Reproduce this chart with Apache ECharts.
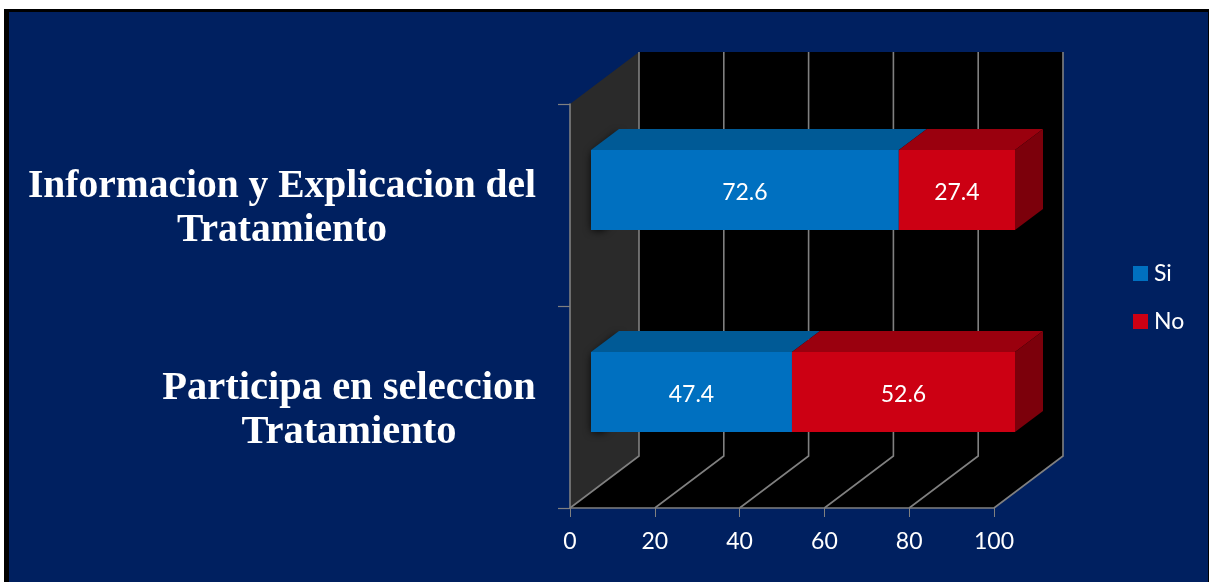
<!DOCTYPE html>
<html>
<head>
<meta charset="utf-8">
<style>
html,body{margin:0;padding:0;background:#fff;width:1212px;height:582px;overflow:hidden}
#frame{position:absolute;left:4px;top:9px;width:1205px;height:573px;box-sizing:border-box;background:#002060;border-style:solid;border-color:#000;border-width:3px 1px 0 5px}
#chart{position:absolute;left:0;top:0;width:1212px;height:582px}
</style>
<script src="https://cdn.jsdelivr.net/npm/echarts@6/dist/echarts.min.js"></script>
</head>
<body>
<div id="frame"></div>
<div id="chart"></div>
<script>
const categories = ['Informacion y Explicacion del\nTratamiento', 'Participa en seleccion\nTratamiento'];
const siValues = [72.6, 47.4];
const noValues = [27.4, 52.6];
const xTicks = [0, 20, 40, 60, 80, 100];
const labelWidths = [508, 374];
const labelSizes = [39.5, 40.5];

const WALL = {dx: 69, dy: -52};
const BAR = {dx: 28, dy: -21, fx: 21, fy: -15, h: 80};
const C = {
  si: {front: '#0070C0', top: '#005A96'},
  no: {front: '#CC0013', top: '#9A000E', side: '#7C000B'}
};
const GRAY = '#808080';

function poly(pts, fill, extra) {
  return {type: 'polygon', shape: {points: pts}, style: Object.assign({fill: fill}, extra || {})};
}

function wallItem(params, api) {
  const v = api.value(0);
  const p = api.coord([v, 1]);
  const size = api.size([0, 1]);
  const x = p[0], floorY = p[1] + size[1] / 2;
  const topY = floorY - size[1] * 2;
  const bx = x + WALL.dx, by = floorY + WALL.dy, ty = topY + WALL.dy;
  const kids = [];
  if (v === 0) {
    const x100 = api.coord([100, 1])[0];
    kids.push(poly([[bx, ty], [x100 + WALL.dx, ty], [x100 + WALL.dx, by], [bx, by]], '#000'));
    kids.push(poly([[x, floorY], [x100, floorY], [x100 + WALL.dx, by], [bx, by]], '#000'));
    kids.push(poly([[x, topY], [bx, ty], [bx, by], [x, floorY]], '#2A2A2A'));
  }
  kids.push({type: 'polyline', shape: {points: [[bx, ty], [bx, by], [x, floorY]]}, style: {fill: null, stroke: GRAY, lineWidth: 1.6}});
  return {type: 'group', children: kids};
}

function barItem(colors, isLast) {
  return function (params, api) {
    const cat = api.value(0), a = api.value(1), b = api.value(2);
    const p0 = api.coord([a, cat]), p1 = api.coord([b, cat]);
    const x0 = p0[0] + BAR.fx, x1 = p1[0] + BAR.fx;
    const yT = p0[1] + BAR.fy - BAR.h / 2, yB = yT + BAR.h;
    const kids = [];
    if (a === 0) {
      kids.push(poly([[x0 + 1, yT + 2], [x0 + BAR.dx, yT + BAR.dy + 1], [x0 + BAR.dx, yB + BAR.dy], [x0 + 12, yB - 2], [x0 + 1, yB - 2]], '#000', {shadowBlur: 9, shadowColor: '#000', shadowOffsetY: 2}));
    }
    kids.push(poly([[x0, yT], [x1, yT], [x1 + BAR.dx, yT + BAR.dy], [x0 + BAR.dx, yT + BAR.dy]], colors.top));
    if (isLast) {
      kids.push(poly([[x1, yT], [x1 + BAR.dx, yT + BAR.dy], [x1 + BAR.dx, yB + BAR.dy], [x1, yB]], colors.side));
    }
    kids.push({type: 'rect', shape: {x: x0, y: yT, width: x1 - x0, height: BAR.h}, style: {fill: colors.front}});
    kids.push({type: 'text', style: {
      x: (x0 + x1) / 2, y: (yT + yB) / 2 + 3, text: String(api.value(3)),
      align: 'center', verticalAlign: 'middle', fill: '#fff',
      font: '23px Lato, "Open Sans", sans-serif'
    }});
    return {type: 'group', children: kids};
  };
}

const siData = categories.map((c, i) => [i, 0, siValues[i], siValues[i]]);
const noData = categories.map((c, i) => [i, siValues[i], siValues[i] + noValues[i], noValues[i]]);

const rich = {};
labelWidths.forEach((w, i) => {
  rich['c' + i] = {width: w, align: 'center', color: '#fff', fontFamily: '"Liberation Serif", serif', fontWeight: 'bold', fontSize: labelSizes[i], lineHeight: 44};
});

const chart = echarts.init(document.getElementById('chart'), null, {renderer: 'canvas'});
chart.setOption({
  animation: false,
  backgroundColor: 'transparent',
  grid: {left: 570, top: 104, width: 424, height: 404, containLabel: false},
  xAxis: {
    type: 'value', min: 0, max: 100, interval: 20, z: 10,
    splitLine: {show: false},
    axisLine: {show: true, lineStyle: {color: GRAY, width: 1.6}},
    axisTick: {show: true, length: 9, lineStyle: {color: GRAY, width: 1}},
    axisLabel: {color: '#fff', fontFamily: 'Lato, "Open Sans", sans-serif', fontSize: 23, margin: 22, formatter: v => String(v), hideOverlap: false}
  },
  yAxis: {
    type: 'category', inverse: true, data: categories, z: 10,
    axisLine: {show: true, lineStyle: {color: GRAY, width: 1.6}},
    axisTick: {show: true, length: 12, lineStyle: {color: GRAY, width: 1.2}},
    axisLabel: {
      margin: 34, interval: 0, rich: rich, padding: [8, 0, 0, 0],
      formatter: function (val, idx) {
        return val.split('\n').map(l => '{c' + idx + '|' + l + '}').join('\n');
      }
    }
  },
  legend: {
    data: [{name: 'Si', icon: 'rect'}, {name: 'No', icon: 'rect'}],
    orient: 'vertical', left: 1128, top: 257, itemWidth: 15, itemHeight: 15, itemGap: 25,
    selectedMode: false,
    textStyle: {color: '#fff', fontFamily: 'Lato, "Open Sans", sans-serif', fontSize: 23, padding: [0, 0, 0, 1]}
  },
  series: [
    {type: 'custom', name: 'walls', coordinateSystem: 'cartesian2d', silent: true, z: 1, data: xTicks.map(t => [t]), encode: {x: 0}, renderItem: wallItem},
    {type: 'custom', name: 'Si', coordinateSystem: 'cartesian2d', z: 2, itemStyle: {color: C.si.front}, data: siData, encode: {x: [1, 2], y: 0}, renderItem: barItem(C.si, false)},
    {type: 'custom', name: 'No', coordinateSystem: 'cartesian2d', z: 3, itemStyle: {color: C.no.front}, data: noData, encode: {x: [1, 2], y: 0}, renderItem: barItem(C.no, true)}
  ]
});
</script>
</body>
</html>
